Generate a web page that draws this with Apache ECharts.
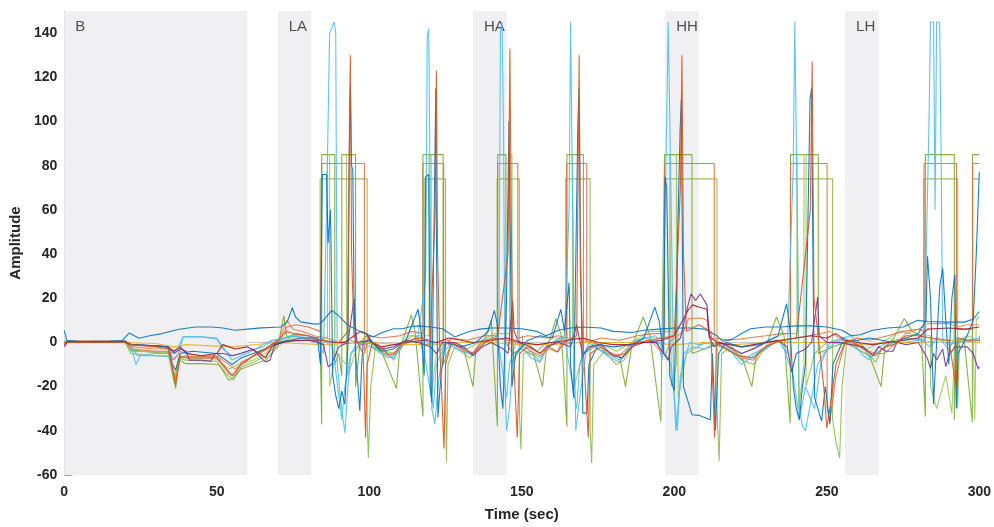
<!DOCTYPE html>
<html>
<head>
<meta charset="utf-8">
<script src="https://cdn.jsdelivr.net/npm/echarts@6/dist/echarts.min.js"></script>
<style>
html,body{margin:0;padding:0;background:#fff;}
#chart{width:994px;height:527px;}
</style>
</head>
<body>
<div id="chart"></div>
<script>
// ---- shaded condition windows ----
const regionNames = ['B', 'LA', 'HA', 'HH', 'LH'];
const regionStart = [0, 70, 134, 197, 256];
const regionEnd   = [60, 81, 145, 208, 267];

// ---- signals: [time (sec), amplitude] ----
const green74 = [[0,0],[20,0],[21.8,-5],[30,-6],[34.3,-6.5],[36,-18],[37.6,-7],[39.8,-8],[50,-8.5],[53,-14],[55.5,-17],[58,-11],[62,-9],[66,-6],[69,-2],[71,1],[74,3],[78,2],[83.9,0],[83.9,74],[99.3,74],[99.3,-35],[99.7,-52.3],[100.5,-20],[102,-2],[104,-5],[106,-7],[108,-6],[110,-2],[114,3],[118,2],[118,74],[125,74],[125,-20],[125.3,-53.9],[125.8,-10],[128,-2],[131,-5],[133,-7],[136,-1],[140,2],[141.9,0],[141.9,74],[149.2,74],[149.2,-30],[149.7,-48.5],[150.5,-5],[153,-4],[156,-8.8],[158,-3],[162,1],[164.4,2],[164.4,74],[172.4,74],[172.4,-40],[172.9,-54.6],[173.6,-10],[177,-4],[181,-10],[183.5,-8],[186,-2],[190,2],[196.8,2],[196.8,74],[214,74],[214,-30],[214.7,-53.7],[215.5,-5],[219,-2],[222,-8],[226,-10],[229,-4],[232,0],[236,1],[238.1,0],[238.1,74],[251.9,74],[251.9,-35],[253,-45],[254.2,-52.3],[255,-20],[256.5,0],[260,1],[263,-4],[266,-9],[268,-3],[272,1],[276,2],[281.8,1],[281.8,74],[292.9,74],[292.9,-30],[293.5,0],[296,1],[297.8,0],[297.8,74],[300,74]];

const green85 = [[0,0],[20,0.5],[21.8,-3.5],[30,-4.5],[34.3,-5],[36.5,-20.8],[37.6,-8],[39.8,-9.6],[45,-9.6],[50.7,-10],[54,-17.2],[56,-15],[58,-12],[62,-10],[66,-8],[68,-5],[70,-2],[72,12],[73,2],[76,4],[80,3],[83.9,0],[84.4,-37],[84.4,85],[88.7,85],[88.7,-10],[90,-5],[91,-15],[91,85],[95.5,85],[95.5,-20],[97,0],[99,3],[101,-2],[104,-4],[108.9,-20.8],[110,-3],[113.8,12.4],[115,5],[117.6,-33.5],[117.6,85],[124.2,85],[124.2,-10],[127,0],[131,-3],[134,-20],[135,-3],[138,2],[140,10],[142,-38],[142.1,85],[144.8,85],[144.8,0],[147,-5],[150,-3],[154,-6],[156.8,-20],[158,-4],[161.2,10.8],[163,3],[164.8,-38],[164.8,85],[170.2,85],[170.2,-5],[174,-2],[178,-5],[182,-6],[184,-20],[186,-2],[189.8,11.5],[192,3],[195.6,-35.8],[196.8,85],[205.8,85],[205.8,-5],[210,-3],[214,0],[218,-4],[222,-6],[225.4,-20],[227,-5],[230,-2],[233.5,11.5],[236,3],[238,-36.6],[238.1,85],[247.2,85],[247.2,-5],[252,-2],[256,0],[260,-3],[264,-6],[267.8,-20],[269,-2],[272,2],[275.4,10.8],[278,5],[281,3],[282.3,-33.5],[282.3,85],[291.8,85],[291.8,-35],[292.5,0],[295,2],[297.7,-36],[297.8,85],[300,85]];

const greenPulse = [[0,0.5],[20,0.5],[22,-4],[34,-4.5],[36,-15],[38,-6],[40,-7],[50,-7.5],[54,-12],[57,-10],[62,-8],[67,-4],[71,-1],[74,2],[80,2],[86.3,2],[86.3,85],[87,85],[87,-20],[89,-5],[92.5,-10],[92.5,85],[93,85],[93,-15],[96,-2],[100,0],[105,-4],[109,-5],[113,3],[119.6,3],[119.6,85],[120.3,85],[120.3,-25],[122,-5],[126,0],[132,-3],[136,0],[141,4],[146,4],[146,85],[146.8,85],[146.8,-10],[150,0],[155,-4],[160,2],[166.6,2],[166.6,85],[167.2,85],[167.2,-20],[170,-5],[175,0],[181,-4],[186,0],[192,5],[198.5,5],[198.5,85],[199,85],[199,-20],[200.7,-10],[200.7,85],[201.3,85],[201.3,-25],[204,-5],[210,0],[215,-2],[222,-5],[230,0],[236,4],[240.2,4],[240.2,85],[240.8,85],[240.8,-30],[242.5,-10],[242.5,85],[243.2,85],[243.2,-20],[246,-5],[250,0],[256,1],[263,-3],[268,0],[274,5],[280,3],[284,3],[284,-20],[286,-30],[289,-15],[291,-32],[292,0],[296,3],[298,2],[298.5,-35],[299,10],[300,12]];

const orangeRect = [[0,0.5],[10,0.5],[20,0.5],[22,-3],[30,-4],[34,-4],[36.5,-17],[38,-6],[40,-7],[45,-7],[50,-7],[54,-14],[56,-15],[58,-9],[64,-5],[68,-2],[71,2],[73,7],[76,8],[80,7],[84,5],[84.4,81],[98.4,81],[98.4,-5],[100,3],[104,2],[110,3],[114,5],[117.6,4],[117.6,81],[124.4,81],[124.4,-2],[127,2],[132,1],[138,3],[142.1,3],[142.1,81],[148.7,81],[148.7,2],[152,3],[158,2],[162,3],[164.7,2],[164.7,81],[171.3,81],[171.3,0],[176,2],[182,1],[188,3],[193,4],[196.8,4],[196.8,81],[213.1,81],[213.1,2],[218,1],[224,2],[230,3],[235,4],[238.1,4],[238.1,81],[250.1,81],[250.1,-30],[251,-36],[253,-15],[256,0],[260,2],[264,1],[270,3],[275,5],[280,6],[281.9,5],[281.9,81],[292.5,81],[292.5,6],[295,6],[297.8,6],[297.8,81],[300,81]];

const lightBlueSpike = [[0,0],[10,0.5],[20,0.5],[22,-2],[23.5,-10],[25,-6],[30,-6],[34,-6],[35.5,-8],[37.5,-5],[39,2.5],[45,2.5],[50,2],[52,-2],[55,-8],[58,-6],[63,-3],[66,0],[70,1],[75,3],[80,2],[83,1],[85,-5],[86,60],[87,140],[88.5,145],[89,140],[89.5,-10],[90.5,-25],[92,-41],[93,-20],[94,-5],[96,0],[100,1],[105,-3],[108,-8],[110,-2],[114,1],[116,3],[118.5,30],[119,138],[119.5,142],[120,60],[120.5,-30],[121.5,-37],[122.5,-20],[124,-5],[127,0],[131,-4],[134,-6],[137,1],[141,2],[142.5,5],[143,140],[143.5,145],[144,100],[144.5,-20],[145,-40],[146,-30],[147,-8],[150,-2],[153,-7],[156,-9],[158,-3],[161,1],[164,3],[165.5,60],[166,145],[166.5,145],[167,20],[167.7,-40],[169,-25],[171,-5],[174,0],[178,-5],[182,-8],[185,-3],[190,2],[194,3],[196,-8],[197.5,100],[198,145],[198.5,145],[199,60],[199.8,-20],[200.5,-40],[201.5,-25],[203,-5],[206,-2],[210,-3],[214,-1],[218,-3],[222,-10],[226,-6],[230,-3],[234,1],[237,-5],[239,80],[239.5,145],[240,145],[240.5,40],[241,-30],[242,-38],[243,-40],[245,-25],[247,-10],[250,-3],[253,0],[256,2],[259,-1],[262,-6],[264,-8],[267,-2],[270,0],[275,0],[280,1],[282,0],[283.5,100],[284,145],[285,145],[285.5,60],[286,145],[287,145],[287.5,80],[288,0],[290,-3],[292,2],[296,1],[300,2]];

const lightBlueBase = [[0,0],[20,0.5],[22,-2],[24,-6],[30,-5],[35,-5],[37,-3],[39,2.6],[45,2.6],[50,1.5],[52,-3],[55,-6],[60,-4],[65,-2],[68,1],[72,2],[76,3],[80,3],[84,2],[88,-2],[91,-35],[92,-20],[94,-5],[98,0],[104,-5],[108,-7],[112,0],[116,2],[118,-5],[121,-30],[122,-10],[125,0],[130,-4],[134,-5],[138,0],[142,3],[145,-25],[146,-10],[148,0],[152,-3],[156,-7],[160,0],[164,2],[168,-30],[169,-10],[172,0],[178,-6],[182,-9],[186,0],[190,2],[195,0],[199,-10],[201,-40],[202,-15],[205,0],[208,-1],[212,0],[218,-3],[222,-8],[226,-5],[230,-2],[235,1],[239,-15],[241,-35],[243,-20],[246,-30],[248,-10],[251,0],[255,2],[258,3],[262,-2],[264,-7],[268,-3],[272,0],[276,1],[280,2],[284,-2],[286,2],[290,-1],[295,1],[300,1]];

const purple = [[0,-2],[1,0],[20,0],[22,-1],[30,-1.5],[34,-2],[36,-5],[38,-3],[40,-4],[41,-8],[45,-8],[48,-8.5],[49.5,-5],[52,-5],[55,-6],[58,-5],[62,-3],[64.5,-7],[66,-8.8],[67.5,-8],[69,-1],[72,0],[76,1],[80,1],[83,0],[85,-1],[86.5,-11],[87.6,-10],[90,-2],[93,0],[95,19.8],[95.3,8],[96,0],[100,1],[104,-3],[108,-2],[112,1],[116,0],[120,-2],[122,-5],[124,0],[128,0],[131,-2],[134,-6],[137,-2],[140,0],[144,-3],[145.5,-5],[147,19],[147.5,5],[149,0],[153,-2],[156,-5],[158,-2],[162,0],[166,-2],[168,8],[170,-6],[172,-2],[176,-1],[180,-6],[183,-7],[186,-2],[190,0],[194,0],[198,-8],[199,-2],[202,2],[204.7,18],[205.5,22],[207,19],[208.5,22],[210.7,17],[211.5,2],[213,-2],[215,0],[218,-2],[222,-5],[226,-3],[230,0],[234,1],[237,-2],[238.5,-13.4],[240,-5],[243,-3],[245,0],[247,20.5],[247.5,3],[250,0],[254,0],[258,-1],[262,-2],[265,-6],[267,-2],[269.5,-4],[271.7,-4],[273,0],[276,-1],[280,0],[283,-7.3],[284,-11.8],[285,-5],[286,-8],[288,-3],[289,-11],[290,-6],[292,-2],[296,-2],[298,-5],[299.6,-12],[300,-11]];

const darkRed = [[0,-1],[1,0.5],[20,0.5],[22,-1],[34,-2],[36,-4],[38,-2],[40,-5],[45,-6],[50,-5],[52,-1],[56,-3],[60,-2],[64,-5],[66,-7],[68,-2],[72,0.5],[80,1],[85,1],[88,0],[92,0],[95,3],[97,5],[99,4],[101,0],[104,-2],[108,-1],[112,0],[118,1],[122,0],[126,2],[130,1],[134,0],[140,1],[145,2],[150,0],[155,-1],[160,0],[165,1],[170,2],[175,0],[180,-1],[185,-1],[190,0],[196,1],[200,3],[204.7,15],[206,17],[208,16],[210.7,15],[211.5,3],[214,0],[218,-1],[222,-2],[226,-1],[230,0],[235,1],[240,2],[245,3],[250,2],[253,4],[256,1],[260,0],[265,-1],[270,0],[275,1],[280,2],[283,6],[290,6.5],[295,6],[300,7]];

const orangeBase = [[0,0],[20,0],[22,-2],[30,-3],[34,-3],[36,-8],[38,-4],[40,-5],[45,-6],[50,-6],[52,-8],[56,-12],[60,-8],[64,-4],[68,-1],[70,0],[73,10],[75,6],[78,5],[82,3],[86,2],[90,0],[94,1],[98,-1],[101,0],[105,-5],[108,-5.6],[111,-1],[115,2],[118,-1],[122,0],[126,1],[131,-4],[134,-4.5],[137,0],[141,2],[145,1],[149,0],[153,-4],[156,-6],[159,-3],[161.7,-4.3],[163,0],[167,2],[171,1],[175,-1],[178,-4],[182,-6],[185,-2],[188,0],[192,1],[195,-3],[197,-6],[199,1],[203,5],[204.7,10.8],[209,11],[210.7,10],[211.5,2],[215,0],[219,-3],[222,-7],[226,-8],[229,-3],[232,0],[236,1],[240,2],[244,3],[248,4],[251,5],[253,3],[255,1],[258,0],[262,-3],[266,-5],[269,-5],[272,-1],[276,4],[280,6],[283,8.5],[290,8.5],[293,7],[296,8],[300,8]];

const yellow = [[0,0],[20,0],[30,-0.5],[36,-2],[40,-1],[55,-2],[70,0],[85,-1],[100,0],[110,-1],[120,-1],[130,0],[140,0],[150,-1],[160,-1],[170,0],[180,0],[190,0],[200,-1],[210,0],[220,-1],[230,0],[240,0],[250,0],[260,-1],[270,0],[280,0],[290,1],[300,0]];

const blueDrift = [[0,5.5],[0.8,1],[5,0.4],[10,0.3],[15,0.5],[19,0.8],[21.3,4.3],[23,3],[24.5,1.9],[28,3],[32,4],[37.7,6],[43,7],[48.5,7],[52,6.5],[56,5.5],[60,6],[64.6,6.6],[71,7],[73.1,9.3],[74.8,15.7],[75.8,11.5],[77.5,9.3],[82,8.3],[84,8.5],[87.7,14.5],[90,12],[93,7.8],[97,5],[101.3,2.5],[104,4.4],[108,6.2],[111,6.2],[113,7],[116,7.5],[120,7],[124,6.2],[128,2.5],[132.5,4.8],[136,6],[140,6.5],[145,6.5],[150,6.2],[155,5],[158,3],[162,5.5],[166,6.5],[170,7],[176,6.5],[180,5],[186,4.5],[190,5.5],[195,6],[200,6.5],[205,6.5],[210,6],[214,3],[216,0.5],[219,1.5],[222,4],[225,6.2],[230,7],[235,7],[240,7.5],[245,7.5],[250,7],[255,5.5],[258,3],[261,3.5],[265,5.5],[270,6.5],[275,7],[279.8,10],[283,9.5],[290,9.2],[295,9.2],[298,10.5],[300,14]];

const darkBlueSpike = [[0,0],[20,0],[22,-1],[30,-1.5],[34,-2],[35.5,-10],[36.5,-12.5],[38,-5],[42,-4],[50,-5],[53,-8],[55,-10],[58,-7],[62,-5],[66,-3],[68,-1],[72,0.5],[78,2],[83,2],[84,-10],[84.6,76],[86,76],[86.5,45],[87.3,60],[88,-15],[89,-24],[90,-30],[91,-22],[92,-28],[93,0],[93.4,80],[93.8,116],[94.2,80],[94.6,78],[95,20],[95.5,-5],[96.9,-31],[97.5,-10],[98,0],[100,1],[104,-4],[108,-3],[112,1],[116,15],[117,5],[118,-15],[118.5,75],[119.5,76],[120,-20],[120.5,-27],[121.8,115],[122,50],[122.5,-34],[123.5,-15],[125,0],[130,-2],[135,0],[139,5],[141,14.5],[142,8],[143,-20],[143.8,-30],[145,20],[145.8,100],[146.2,50],[146.8,-20],[148,-5],[152,1],[156,3],[160,2],[162.8,15],[164,5],[165.5,27],[166,-10],[167,-25],[168.4,100],[168.8,115],[169.2,50],[170,-32],[171.4,-32],[172,-10],[175,-1],[180,-2],[186,-1],[190,2],[193.6,16],[195,10],[196.5,-5],[197,75],[197.5,70],[198.5,-15],[200,-22],[201.9,96],[202.3,110],[203,-20],[205.8,-32.7],[208,-33],[211.8,-35],[212.5,-5],[213.5,-40],[214.5,-5],[217,0],[222,-2],[228,-1],[234,3],[236.8,17.5],[238,5],[239,-20],[240,-30],[241,-35],[242,-20],[243,-10],[244.5,110],[245,115],[245.5,30],[246,-25],[248.3,-35.6],[249.5,-20],[251,-37],[252,-10],[255,0],[260,1],[264,2],[268,1],[272,0],[276,2],[280,4],[282.5,10],[283,39],[284,20],[285,-28],[286,0],[287,25],[288,33.6],[289,10],[290,-10],[291,20],[292,30.6],[292.5,-29.8],[293,-5],[296,3],[298,10],[299,40],[300,77]];

const redSpike = [[0,0],[20,0],[22,-1],[30,-2],[34.5,-3],[36.5,-19],[38,-7],[40,-6],[41,-6.5],[50,-6.5],[52,-10],[55,-15],[58,-10],[62,-6],[66,-3],[70,1],[73,5],[75,4],[80,3],[84,1],[90,0],[93,5],[93.5,100],[93.8,130],[94.2,40],[95,3],[98,-5],[98.8,-43],[99.3,-10],[101,0],[104,-2],[106,-5.6],[108,-5],[111,0],[116,2],[120,1],[121.6,60],[122,123],[122.4,40],[123,2],[124.5,-48],[125,-10],[127,0],[131,-3],[134,-5],[138,0],[142,2],[145.5,40],[146.1,133],[146.5,60],[147,3],[148.5,-43],[149.3,-5],[152,-2],[156,-5],[159,-2],[161.7,-4.3],[164,0],[168,3],[168.5,80],[168.8,130],[169.2,30],[170,0],[171.8,-43],[172.4,-5],[176,-2],[180,-6],[184,-5],[188,0],[192,1],[196,2],[200,3],[202,70],[202.5,130],[203,40],[204,5],[208,8],[212,5],[213.2,-43],[213.8,0],[217,-3],[221,-6],[226,-7],[230,-2],[235,1],[240,2],[244.6,60],[245.2,127],[245.8,20],[247,5],[249,-20],[250,-38.8],[251,-30],[253,-10],[255.9,0],[258,1],[262,-3],[266,-6],[269,-2],[272,-1],[276,3],[280,3],[284,2],[290,1],[292.4,-20],[293,2],[296,1],[300,1]];

const seriesDefs = [
  {name:'green74', data:green74, color:'#8DBB4C'},
  {name:'green85', data:green85, color:'#77AC30'},
  {name:'greenPulse', data:greenPulse, color:'#9CC55E'},
  {name:'orangeRect', data:orangeRect, color:'#E36E3C'},
  {name:'lightBlueBase', data:lightBlueBase, color:'#4DBEEE'},
  {name:'lightBlueSpike', data:lightBlueSpike, color:'#4DBEEE'},
  {name:'yellow', data:yellow, color:'#EDB120'},
  {name:'orangeBase', data:orangeBase, color:'#E8845A'},
  {name:'purple', data:purple, color:'#7E2F8E'},
  {name:'darkRed', data:darkRed, color:'#A2142F'},
  {name:'blueDrift', data:blueDrift, color:'#0072BD'},
  {name:'darkBlueSpike', data:darkBlueSpike, color:'#0072BD'},
  {name:'redSpike', data:redSpike, color:'#D95319'}
];

const FONT = 'Liberation Sans, Arial, sans-serif';
const chart = echarts.init(document.getElementById('chart'), null, {renderer:'canvas'});

const areaData = regionNames.map((n, i) => [
  {name:n, xAxis:regionStart[i], yAxis:150},
  {xAxis:regionEnd[i], yAxis:-60}
]);

const series = seriesDefs.map((s, i) => ({
  type:'line',
  name:s.name,
  data:s.data,
  showSymbol:false,
  symbol:'none',
  lineStyle:{color:s.color, width:1.1, opacity:0.9},
  itemStyle:{color:s.color},
  z:2+i,
  silent:true,
  animation:false
}));

series[0].markArea = {
  silent:true,
  itemStyle:{color:'#F0F0F2'},
  label:{
    show:true,
    position:'insideTopLeft',
    distance:[9,7],
    offset:[3,0],
    color:'#505050',
    fontSize:15,
    fontFamily:FONT
  },
  data:areaData
};
// distance as array is not supported by all versions; use numeric value
series[0].markArea.label.distance = 8;

chart.setOption({
  animation:false,
  backgroundColor:'#ffffff',
  grid:{left:61.5, right:14, top:11, bottom:50, containLabel:false},
  xAxis:{
    type:'value', min:0, max:300, interval:50,
    name:'Time (sec)', nameLocation:'middle', nameGap:32,
    nameTextStyle:{fontSize:15, fontWeight:'bold', color:'#262626', fontFamily:FONT},
    axisLine:{show:true, lineStyle:{color:'#C8C8C8', width:1}},
    axisTick:{show:true, inside:true, length:7, lineStyle:{color:'#A0A0A0'}},
    axisLabel:{fontSize:14, fontWeight:'bold', color:'#262626', margin:10, fontFamily:FONT},
    splitLine:{show:false}
  },
  yAxis:{
    type:'value', min:-60, max:150, interval:20,
    name:'Amplitude', nameLocation:'middle', nameGap:40, nameRotate:90,
    nameTextStyle:{fontSize:15, fontWeight:'bold', color:'#262626', fontFamily:FONT},
    axisLine:{show:true, lineStyle:{color:'#C8C8C8', width:1}},
    axisTick:{show:true, inside:true, length:8, lineStyle:{color:'#A8A8A8'}},
    axisLabel:{fontSize:14, fontWeight:'bold', color:'#262626', margin:7, fontFamily:FONT,
      formatter:function(v){ return v > 140 ? '' : String(v); }},
    splitLine:{show:false}
  },
  series:series
});
</script>
</body>
</html>
